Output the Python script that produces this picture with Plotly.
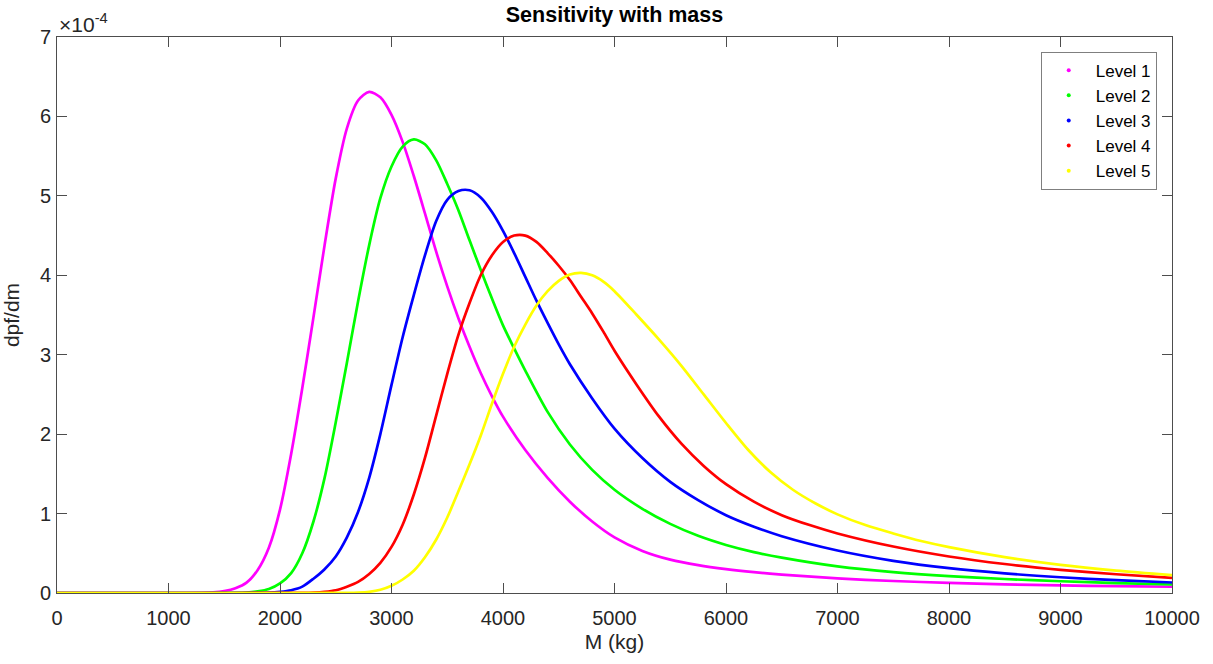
import plotly.graph_objects as go

# Values (dpf/dm in units of 1e-4)
m1 = [0, 1000, 1300, 1400, 1500, 1600, 1700, 1800, 1900, 2000, 2100, 2200, 2300, 2400, 2500, 2600, 2700,
      2800, 2900, 3000, 3100, 3200, 3300, 3400, 3500, 3600, 3700, 3800, 3900, 4000, 4200, 4400, 4600,
      4800, 5000, 5250, 5500, 5750, 6000, 6250, 6500, 7000, 7500, 8000, 8500, 9000, 9500, 10000]
v1 = [0, 0, 0.002, 0.008, 0.025, 0.06, 0.13, 0.29, 0.57, 1.05, 1.75, 2.58, 3.47, 4.38, 5.22, 5.85, 6.2,
      6.31, 6.24, 6.02, 5.68, 5.25, 4.78, 4.3, 3.86, 3.46, 3.1, 2.77, 2.48, 2.22, 1.8, 1.45, 1.15,
      0.9, 0.7, 0.53, 0.42, 0.35, 0.3, 0.262, 0.232, 0.184, 0.151, 0.127, 0.109, 0.096, 0.086, 0.079]

m2 = [0, 1000, 1600, 1700, 1800, 1900, 2000, 2100, 2200, 2300, 2400, 2500, 2600, 2700, 2800, 2900, 3000,
      3100, 3200, 3300, 3400, 3500, 3600, 3700, 3800, 3900, 4000, 4100, 4200, 4400, 4600, 4800, 5000,
      5250, 5500, 5750, 6000, 6250, 6500, 7000, 7500, 8000, 8500, 9000, 9500, 10000]
v2 = [0, 0, 0.002, 0.006, 0.02, 0.05, 0.12, 0.25, 0.5, 0.9, 1.45, 2.15, 2.9, 3.67, 4.38, 4.97, 5.37,
      5.62, 5.71, 5.65, 5.45, 5.15, 4.82, 4.44, 4.07, 3.71, 3.37, 3.08, 2.8, 2.28, 1.87, 1.55, 1.3,
      1.06, 0.87, 0.72, 0.605, 0.515, 0.445, 0.335, 0.262, 0.212, 0.176, 0.148, 0.125, 0.107]

m3 = [0, 1000, 1900, 2000, 2100, 2200, 2300, 2400, 2500, 2600, 2700, 2800, 2900, 3000, 3100, 3200, 3300,
      3400, 3500, 3600, 3700, 3800, 3900, 4000, 4100, 4200, 4300, 4400, 4500, 4600, 4800, 5000, 5250,
      5500, 5750, 6000, 6250, 6500, 7000, 7500, 8000, 8500, 9000, 9500, 10000]
v3 = [0, 0, 0.005, 0.015, 0.035, 0.08, 0.18, 0.3, 0.46, 0.7, 1.02, 1.45, 2.0, 2.62, 3.22, 3.75, 4.25,
      4.68, 4.95, 5.06, 5.07, 4.98, 4.8, 4.56, 4.28, 3.98, 3.68, 3.4, 3.13, 2.88, 2.45, 2.07, 1.7,
      1.4, 1.17, 0.98, 0.835, 0.715, 0.535, 0.405, 0.313, 0.247, 0.198, 0.161, 0.132]

m4 = [0, 1000, 2200, 2300, 2400, 2500, 2600, 2700, 2800, 2900, 3000, 3100, 3200, 3300, 3400, 3500, 3600,
      3700, 3800, 3900, 4000, 4100, 4200, 4300, 4400, 4500, 4600, 4700, 4800, 4900, 5000, 5200, 5400,
      5600, 5800, 6000, 6250, 6500, 6750, 7000, 7500, 8000, 8500, 9000, 9500, 10000]
v4 = [0, 0, 0.002, 0.005, 0.015, 0.035, 0.08, 0.14, 0.24, 0.38, 0.58, 0.86, 1.24, 1.7, 2.23, 2.76, 3.25,
      3.65, 4.0, 4.25, 4.42, 4.5, 4.5, 4.42, 4.28, 4.12, 3.94, 3.73, 3.52, 3.29, 3.05, 2.62, 2.22,
      1.88, 1.6, 1.37, 1.15, 0.98, 0.855, 0.75, 0.585, 0.46, 0.365, 0.292, 0.236, 0.19]

m5 = [0, 1000, 2600, 2700, 2800, 2900, 3000, 3100, 3200, 3300, 3400, 3500, 3600, 3700, 3800, 3900, 4000,
      4100, 4200, 4300, 4400, 4500, 4600, 4700, 4800, 4900, 5000, 5200, 5400, 5600, 5800, 6000, 6200,
      6400, 6600, 6800, 7000, 7250, 7500, 7750, 8000, 8500, 9000, 9500, 10000]
v5 = [0, 0, 0.002, 0.005, 0.015, 0.04, 0.09, 0.17, 0.28, 0.45, 0.67, 0.95, 1.28, 1.62, 1.98, 2.38, 2.76,
      3.1, 3.38, 3.62, 3.8, 3.93, 4.01, 4.03, 4.0, 3.92, 3.8, 3.5, 3.19, 2.86, 2.5, 2.14, 1.8,
      1.52, 1.3, 1.13, 0.99, 0.855, 0.75, 0.655, 0.578, 0.452, 0.355, 0.282, 0.225]

names = ["Level 1", "Level 2", "Level 3", "Level 4", "Level 5"]
colors = ["#FF00FF", "#00FF00", "#0000FF", "#FF0000", "#FFFF00"]
xs = [m1, m2, m3, m4, m5]
ys = [v1, v2, v3, v4, v5]

y_ticks = [0, 1, 2, 3, 4, 5, 6, 7]
x_ticks = [0, 1000, 2000, 3000, 4000, 5000, 6000, 7000, 8000, 9000, 10000]

FONT = "Liberation Sans, Arial, Helvetica, sans-serif"
AXC = "#4d4d4d"
TXT = "#262626"

fig = go.Figure()
for x, y, n, c in zip(xs, ys, names, colors):
    fig.add_trace(go.Scatter(x=x, y=[v * 1e-4 for v in y], mode="lines", name=n,
                             line=dict(color=c, width=2.7, shape="spline", smoothing=0.8),
                             showlegend=False))
for n, c in zip(names, colors):
    fig.add_trace(go.Scatter(x=[None], y=[None], mode="markers", name=n,
                             marker=dict(color=c, size=4), showlegend=True))

fig.update_layout(
    width=1213, height=664,
    margin=dict(l=57, r=41, t=37, b=71),
    paper_bgcolor="white", plot_bgcolor="white",
    font=dict(family=FONT, size=20, color=TXT),
    title=dict(text="<b>Sensitivity with mass</b>", x=0.5, xref="paper", xanchor="center",
               y=1 - 14 / 664, yref="container", yanchor="middle",
               font=dict(family=FONT, size=21.5, color="black")),
    legend=dict(x=0.9863, xanchor="right", y=0.9736, yanchor="top",
                bgcolor="white", bordercolor="#7f7f7f", borderwidth=1,
                font=dict(family=FONT, size=17, color="black"),
                itemwidth=44, tracegroupgap=0),
    xaxis=dict(range=[0, 10000], tickvals=x_ticks, ticktext=[str(t) for t in x_ticks],
               ticks="inside", ticklen=10, tickcolor=AXC, showline=True, linecolor=AXC,
               linewidth=1, mirror="ticks", showgrid=False, zeroline=False,
               tickfont=dict(size=20, color=TXT), ticklabelstandoff=7,
               title=dict(text="M (kg)", font=dict(size=21, color=TXT), standoff=6)),
    yaxis=dict(range=[0, 7e-4], tickvals=[t * 1e-4 for t in y_ticks], ticktext=[str(t) for t in y_ticks],
               ticks="inside", ticklen=10, tickcolor=AXC, showline=True, linecolor=AXC,
               linewidth=1, mirror="ticks", showgrid=False, zeroline=False,
               tickfont=dict(size=20, color=TXT), ticklabelstandoff=1,
               title=dict(text="dpf/dm", font=dict(size=21, color=TXT), standoff=14)),
)

fig.add_annotation(text="\u00d710<sup>-4</sup>", xref="paper", yref="paper", x=0, y=1,
                   xanchor="left", yanchor="bottom", showarrow=False, yshift=-1,
                   font=dict(family=FONT, size=21, color=TXT))

fig.write_html("out.html", config={"displayModeBar": False},
               post_script="document.body.style.margin='0';document.body.style.padding='0';")
